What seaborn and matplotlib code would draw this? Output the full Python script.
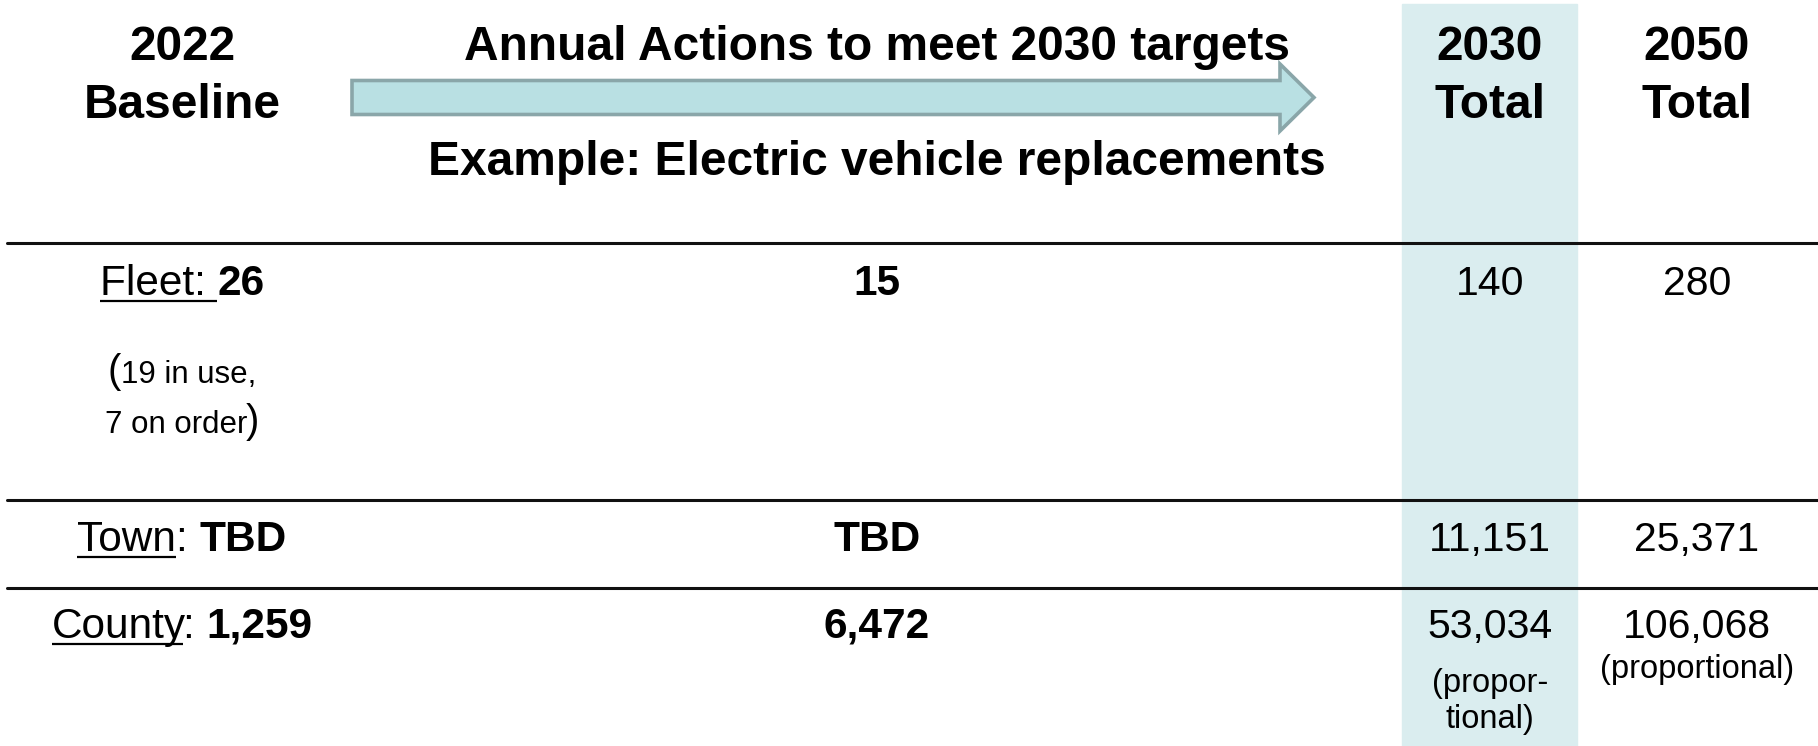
"""Baseline vs. 2030/2050 targets table: electric vehicle replacements."""

import matplotlib

matplotlib.use("Agg")
import matplotlib.pyplot as plt
import seaborn as sns
from matplotlib.patches import Polygon

# table content
categories = ["Fleet", "Town", "County"]
baseline_2022 = ["26", "TBD", "1,259"]
annual_actions = ["15", "TBD", "6,472"]
total_2030 = ["140", "11,151", "53,034"]
total_2050 = ["280", "25,371", "106,068"]
fleet_note = ["19 in use,", "7 on order"]
county_note_2030 = ["(propor-", "tional)"]
county_note_2050 = "(proportional)"

header_baseline = ["2022", "Baseline"]
header_annual = "Annual Actions to meet 2030 targets"
header_example = "Example: Electric vehicle replacements"
header_2030 = ["2030", "Total"]
header_2050 = ["2050", "Total"]

W, H = 1818, 746
FONT = ["Liberation Sans", "DejaVu Sans"]

sns.set_theme(style="white")
plt.rcParams["font.family"] = FONT
plt.rcParams["text.color"] = "black"

fig = plt.figure(figsize=(W / 100, H / 100), dpi=100)
ax = fig.add_axes([0, 0, 1, 1])
ax.set_xlim(0, W)
ax.set_ylim(H, 0)
ax.axis("off")
sns.despine(ax=ax, left=True, bottom=True)
renderer = fig.canvas.get_renderer()

col_x = [182, 877, 1490, 1697]
row_base = [295, 551, 638]
row_lines = [243, 500, 588]


def text_width(s, size, weight):
    # sentinel dots keep leading/trailing spaces in the measurement
    t1 = ax.text(0, 0, "." + s + ".", fontsize=size, fontweight=weight)
    t2 = ax.text(0, 0, "..", fontsize=size, fontweight=weight)
    w = t1.get_window_extent(renderer).width - t2.get_window_extent(renderer).width
    t1.remove()
    t2.remove()
    return w


def draw_runs(cx, y, runs):
    widths = [text_width(s, size, wt) for s, size, wt, _ in runs]
    x = cx - sum(widths) / 2
    for (s, size, wt, ul), w in zip(runs, widths):
        ax.text(x, y, s, fontsize=size, fontweight=wt, ha="left", va="baseline",
                zorder=4)
        if ul:
            ax.plot([x, x + w], [y + 6, y + 6], color="black", lw=1.6,
                    solid_capstyle="butt")
        x += w


# shaded 2030 column
ax.axvspan(1402, 1577, ymin=0, ymax=1 - 4 / H, color="#daedef", zorder=0)

# arrow
arrow = Polygon(
    [(352, 80.5), (1280, 80.5), (1280, 64), (1314, 97.5), (1280, 131),
     (1280, 114.5), (352, 114.5)],
    closed=True, facecolor="#b9e0e3", edgecolor="#8aa6a9", lw=2.6, zorder=2,
)
ax.add_patch(arrow)

# row separators
for y in row_lines:
    ax.plot([7, W], [y, y], color="#111111", lw=2.2, zorder=3)

# headers
HS = 34.5
for cx, lines in [(col_x[0], header_baseline), (col_x[2], header_2030),
                  (col_x[3], header_2050)]:
    for y, s in zip([60, 118], lines):
        ax.text(cx, y, s, fontsize=HS, fontweight="bold", ha="center", va="baseline")
ax.text(col_x[1], 60, header_annual, fontsize=HS, fontweight="bold",
        ha="center", va="baseline", zorder=4)
ax.text(col_x[1], 175, header_example, fontsize=HS, fontweight="bold",
        ha="center", va="baseline")

# body
LS = 30.5   # left label column and bold annual values
TS = 29.5   # totals
for i, cat in enumerate(categories):
    y = row_base[i]
    if cat == "Fleet":
        runs = [(cat + ": ", LS, "normal", True), (baseline_2022[i], LS, "bold", False)]
    else:
        runs = [(cat, LS, "normal", True), (": ", LS, "normal", False),
                (baseline_2022[i], LS, "bold", False)]
    draw_runs(col_x[0], y, runs)
    ax.text(col_x[1], y, annual_actions[i], fontsize=LS, fontweight="bold",
            ha="center", va="baseline")
    ax.text(col_x[2], y, total_2030[i], fontsize=TS, ha="center", va="baseline", zorder=4)
    ax.text(col_x[3], y, total_2050[i], fontsize=TS, ha="center", va="baseline")

# notes
NS = 22.5
draw_runs(col_x[0], 383, [("(", 29, "normal", False), (fleet_note[0], NS, "normal", False)])
draw_runs(col_x[0], 433, [(fleet_note[1], NS, "normal", False), (")", 29, "normal", False)])
PS = 23.5
draw_runs(col_x[2], 692, [(county_note_2030[0], PS, "normal", False)])
draw_runs(col_x[2], 728, [(county_note_2030[1], PS, "normal", False)])
draw_runs(col_x[3], 678, [(county_note_2050, PS, "normal", False)])

fig.savefig("out.png", dpi=100)
